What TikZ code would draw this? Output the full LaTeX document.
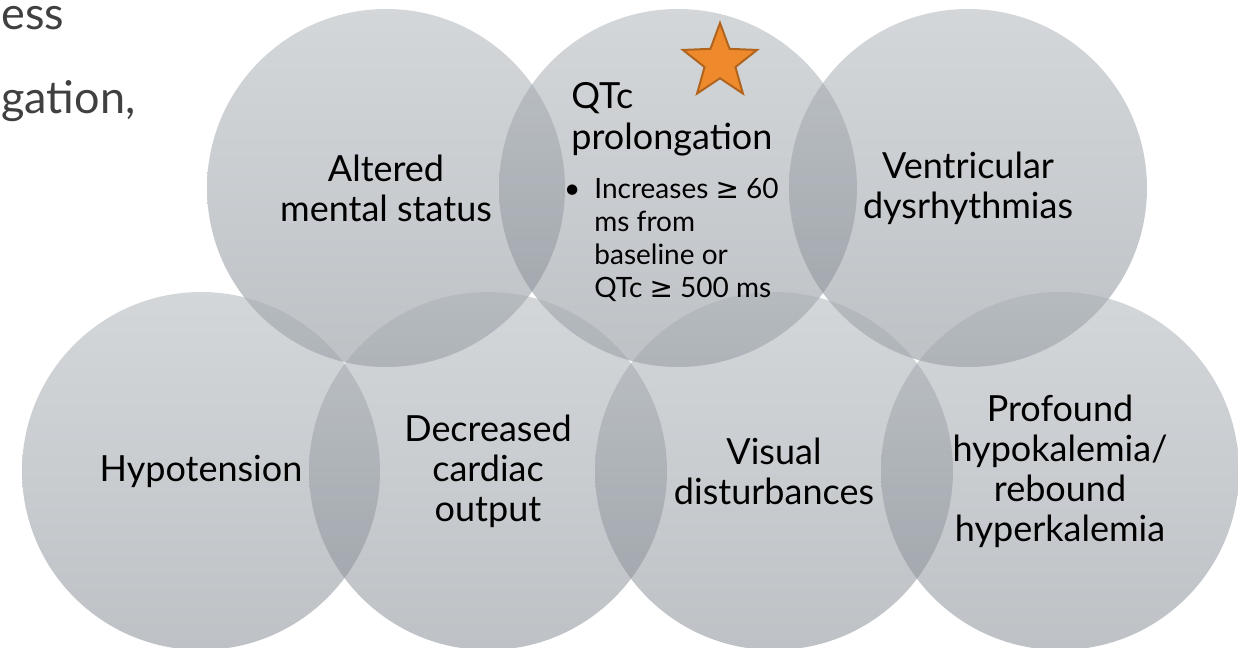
\documentclass[tikz,border=0pt]{standalone}
\usepackage{fontspec}
\setmainfont{Lato}
\newfontfamily\symfont{DejaVu Sans}
\usetikzlibrary{shapes.geometric}
\definecolor{bubbletop}{RGB}{169,175,181}
\definecolor{bubblebottom}{RGB}{125,133,141}
\definecolor{starfill}{RGB}{238,138,43}
\definecolor{staredge}{RGB}{176,100,30}
\definecolor{slidetext}{RGB}{64,64,64}
\newcommand{\gesym}{{\symfont ≥}}
\tikzset{
    every node/.style={align=center,},
    bubble/.style={circle,inner sep=0pt,minimum size=179pt,top color=bubbletop,bottom color=bubblebottom,fill opacity=0.5,text opacity=1,font=\fontsize{18}{20}\selectfont,},
    bullets/.style={align=left,inner sep=0pt,font=\fontsize{14}{16.5}\selectfont,},
    leftover/.style={anchor=base west,inner sep=0pt,text=slidetext,font=\fontsize{22.5}{27}\selectfont,},
}

\begin{document}
\begin{tikzpicture}[x=0.5pt,y=-0.5pt]
    \useasboundingbox (0,0) rectangle (1238,648);
    \clip (0,0) rectangle (1238,648);

    % what is left of the slide text
    \node[leftover] (restone) at (1,30) {ess};
    \node[leftover] (resttwo) at (1,113) {gation,};

    % top row
    \node[bubble] (mental) at (386,188) {Altered\\mental status};
    \node[bubble] (qt) at (678,188) {};
    \node[bubble] (ventr) at (968,188) {Ventricular\\dysrhythmias};

    % bottom row
    \node[bubble] (hypo) at (201,471) {Hypotension};
    \node[bubble] (output) at (488,471) {Decreased\\cardiac\\output};
    \node[bubble] (visual) at (774,471) {Visual\\disturbances};
    \node[bubble] (potassium) at (1060,471) {Profound\\hypokalemia/\\rebound\\hyperkalemia};

    % QTc circle text
    \node[anchor=north west,align=left,inner sep=0pt,font=\fontsize{18}{20.5}\selectfont] (qttitle) at (571,82) {QTc\\prolongation};
    \node[bullets,anchor=north west] (qtcrit) at (594,178) {\llap{\textbullet\hspace{7pt}}Increases \gesym{} 60\\ms from\\baseline or\\QTc \gesym{} 500 ms};

    \node[star,star points=5,star point ratio=2.4,minimum size=39pt,inner sep=0pt,fill=starfill,draw=staredge,line width=1pt] (star) at (720,62) {};
\end{tikzpicture}
\end{document}
